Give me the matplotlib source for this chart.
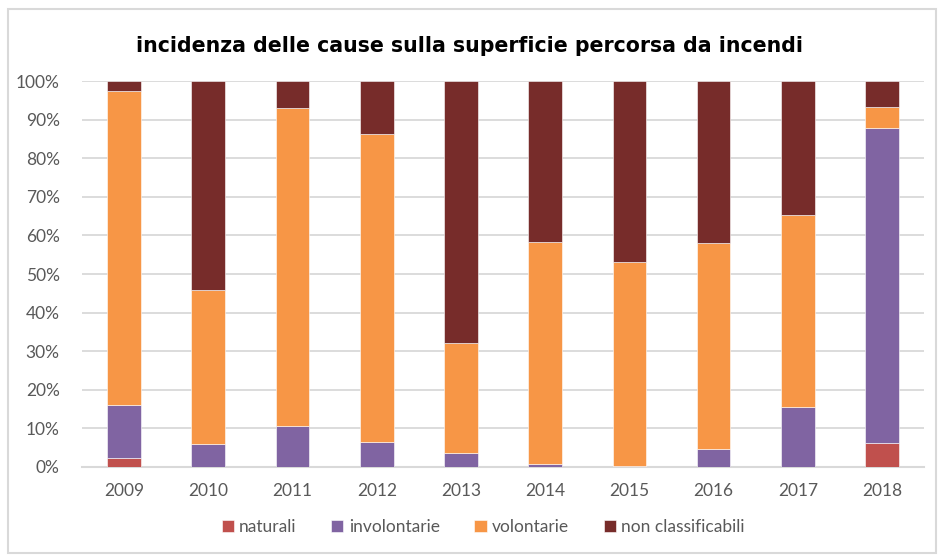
import matplotlib.pyplot as plt
import numpy as np
from matplotlib.patches import Rectangle
from matplotlib.ticker import PercentFormatter

years = ["2009", "2010", "2011", "2012", "2013", "2014", "2015", "2016", "2017", "2018"]
naturali = [2.3, 0, 0, 0, 0, 0, 0, 0, 0, 6.1]
involontarie = [13.8, 5.9, 10.6, 6.5, 3.5, 0.8, 0.1, 4.5, 15.5, 81.7]
volontarie = [81.5, 39.9, 82.5, 79.9, 28.7, 57.4, 53.1, 53.5, 49.9, 5.5]
non_class = [2.4, 54.2, 6.9, 13.6, 67.8, 41.8, 46.8, 42.0, 34.6, 6.7]

series = [("naturali", naturali, "#C0504D"),
          ("involontarie", involontarie, "#8064A2"),
          ("volontarie", volontarie, "#F79646"),
          ("non classificabili", non_class, "#772C2A")]

plt.rcParams['font.family'] = ['Lato', 'DejaVu Sans']

fig = plt.figure(figsize=(9.38, 5.55), dpi=100)
ax = fig.add_axes([0.0874, 0.159, 0.8978, 0.6945])

# light frame round the chart
fig.patches.append(Rectangle((8 / 938, 2 / 555), 928 / 938, 544 / 555, transform=fig.transFigure,
                             fill=False, edgecolor="#D9D9D9", linewidth=1.5))

x = np.arange(len(years))
bottom = np.zeros(len(years))
for name, vals, col in series:
    vals = np.array(vals)
    ax.bar(x, vals, 0.4, bottom=bottom, color=col, label=name, edgecolor="white", linewidth=0.4, zorder=3)
    bottom += vals

ax.set_xlim(-0.5, len(years) - 0.5)
ax.set_ylim(0, 100)
ax.set_yticks(np.arange(0, 101, 10))
ax.yaxis.set_major_formatter(PercentFormatter(decimals=0))
ax.set_xticks(x)
ax.set_xticklabels(years)
ax.grid(axis="y", color="#D9D9D9", linewidth=1.3, zorder=0)
for s in ["top", "right", "left"]:
    ax.spines[s].set_visible(False)
ax.spines["bottom"].set_color("#D9D9D9")
ax.spines["bottom"].set_linewidth(1.5)
ax.tick_params(axis="both", length=0, colors="#595959", labelsize=12.5)
ax.tick_params(axis="x", pad=12)
ax.tick_params(axis="y", pad=16)

fig.text(0.50, 0.917, "incidenza delle cause sulla superficie percorsa da incendi",
         ha="center", va="center", fontsize=14.8, fontweight="bold", color="black",
         family="DejaVu Sans")

leg = fig.legend(loc="center", bbox_to_anchor=(0.515, 0.05), ncol=4, frameon=False,
                 fontsize=12.5, handlelength=0.7, handleheight=0.7, handletextpad=0.3,
                 columnspacing=2.0)
for t in leg.get_texts():
    t.set_color("#595959")

fig.savefig("out.png", dpi=100)
